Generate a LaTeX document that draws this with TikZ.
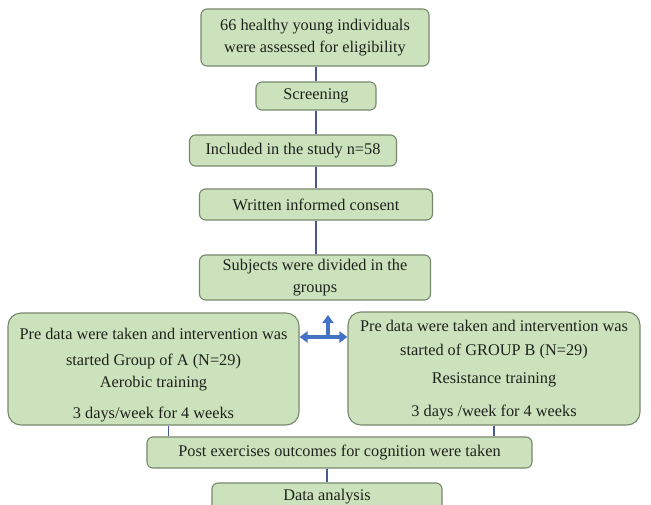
\documentclass[tikz,border=0pt]{standalone}
\usepackage{fontspec}
\setmainfont{Liberation Serif}
\usepackage{tikz}
\usetikzlibrary{arrows.meta,positioning,calc}
\definecolor{boxgreen}{RGB}{204,226,188}
\definecolor{boxedge}{RGB}{118,136,108}
\definecolor{linkblue}{RGB}{72,88,150}
\definecolor{splitblue}{RGB}{68,114,196}
\definecolor{inkgray}{RGB}{30,34,28}

\begin{document}
\begin{tikzpicture}[x=1pt,y=-1pt,>=Latex,
  every node/.style={font=\fontsize{16.3}{22}\selectfont,text=inkgray},
  box/.style={draw=boxedge,line width=1.1pt,fill=boxgreen,rounded corners=6pt,align=center,inner sep=2pt},
  bigbox/.style={box,rounded corners=13pt},
  link/.style={draw=linkblue,line width=1.6pt},
  split/.style={draw=splitblue,line width=3.4pt,-{Triangle[length=8pt,width=11pt]}}]
  \useasboundingbox (0,0) rectangle (651,504);
  \clip (0,0) rectangle (651,504);
  % main chain
  \node[box,minimum width=228pt,minimum height=57pt] (assess) at (315,37.5)
    {66 healthy young individuals\\were assessed for eligibility};
  \node[box,minimum width=120pt,minimum height=28pt] (screen) at (316,96) {Screening};
  \node[box,minimum width=207pt,minimum height=31pt] (incl) at (293,150.5) {Included in the study n=58};
  \node[box,minimum width=233pt,minimum height=31pt] (consent) at (316,204.5) {Written informed consent};
  \node[box,minimum width=231pt,minimum height=45pt] (divide) at (315,277.5)
    {Subjects were divided in the\\groups};
  % the two groups
  \node[bigbox,minimum width=291pt,minimum height=112pt] (grpA) at (153.5,369)
    {\rule{0pt}{24pt}Pre data were taken and intervention was\\[4pt] started Group of A (N=29)\\[0pt]
     Aerobic training\\[9pt] 3 days/week for 4 weeks};
  \node[bigbox,minimum width=292pt,minimum height=113pt] (grpB) at (494,368.5)
    {\rule{0pt}{14pt}Pre data were taken and intervention was\\[2pt] started of GROUP B (N=29)\\[6pt]
     Resistance training\\[11pt] 3 days /week for 4 weeks};
  \node[box,minimum width=385pt,minimum height=31pt] (post) at (339.5,452.5)
    {Post exercises outcomes for cognition were taken};
  \node[box,minimum width=230pt,minimum height=28pt] (data) at (327,497) {Data analysis};

  \draw[link] (assess.south -| screen.south) -- (screen.north);
  \draw[link] (screen.south) -- (screen.south |- incl.north);
  \draw[link] (consent.north |- incl.south) -- (consent.north);
  \draw[link] (consent.south) -- (consent.south |- divide.north);
  \draw[link] ([xshift=15pt]grpA.south) -- ([xshift=15pt]grpA.south |- post.north);
  \draw[link] (grpB.south) -- (grpB.south |- post.north);
  \draw[link] (data.north |- post.south) -- (data.north);

  % split arrow
  \coordinate (fork) at (328,337);
  \coordinate (forktop) at (328,315);
  \draw[split,{Triangle[length=8pt,width=11pt]}-{Triangle[length=8pt,width=11pt]}]
    (fork -| grpA.east) -- (fork -| grpB.west);
  \draw[split] (fork) -- (forktop);
\end{tikzpicture}
\end{document}
